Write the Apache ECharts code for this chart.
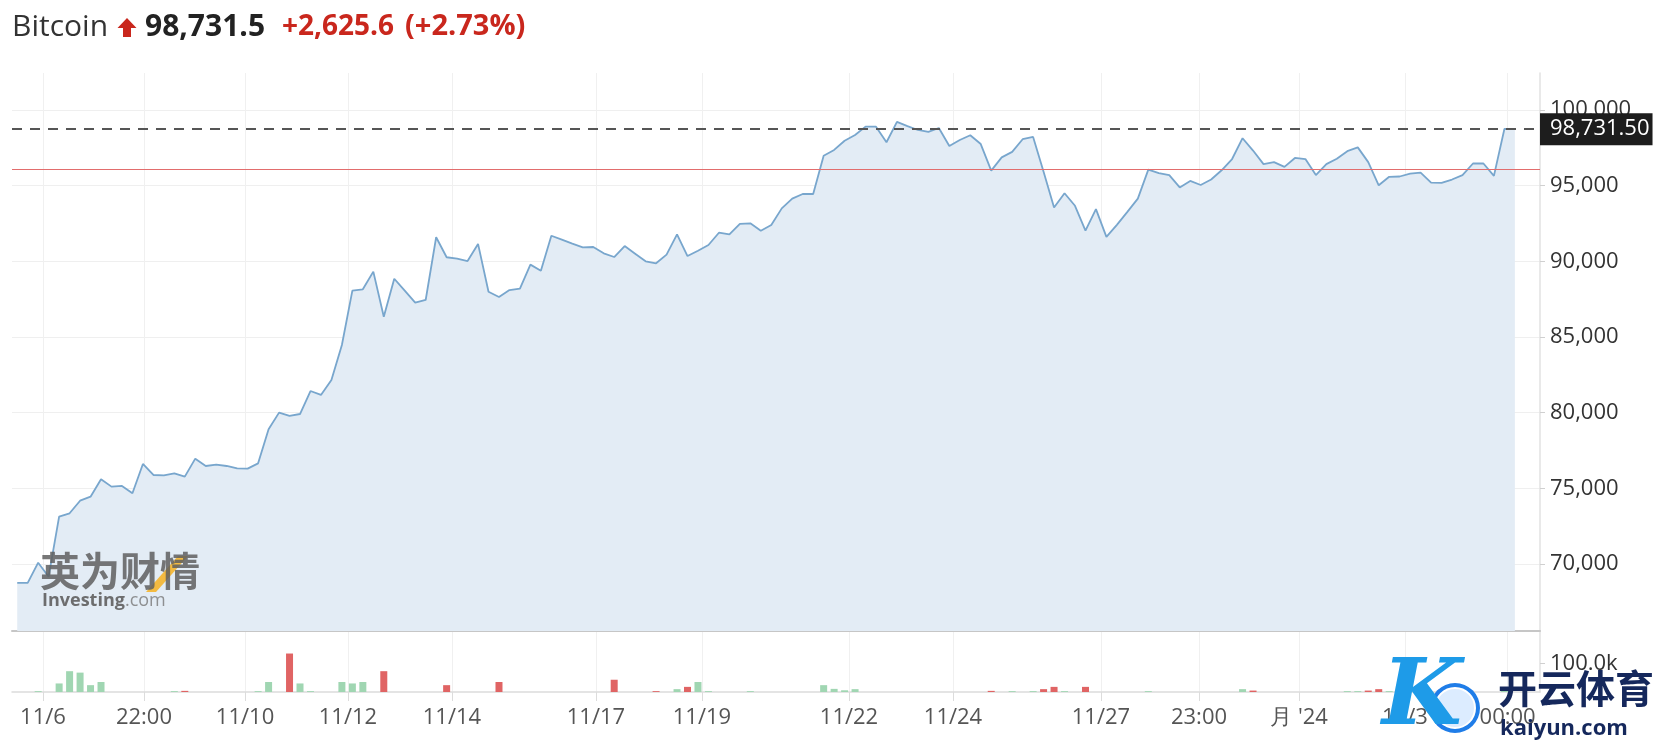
<!DOCTYPE html>
<html><head><meta charset="utf-8">
<script src="https://cdn.jsdelivr.net/npm/echarts@6/dist/echarts.min.js"></script>
<style>html,body{margin:0;padding:0;background:#fff}#c{width:1668px;height:751px}</style>
</head><body><div id="c"></div>
<script>
// ---- data ----
const instrument = 'Bitcoin';
const lastPrice = 98731.5;
const changeAbs = 2625.6;
const changePct = 2.73;
const prevClose = 96105.9;

const prices = [
68745, 68745, 70085, 69160, 73130, 73350, 74180, 74445, 75600, 75110,
75155, 74670, 76610, 75880, 75860, 75990, 75770, 76960, 76475, 76560,
76475, 76320, 76300, 76650, 78900, 80000, 79780, 79910, 81430, 81170,
82160, 84470, 88060, 88150, 89320, 86340, 88850, 88060, 87270, 87445,
91590, 90270, 90175, 90020, 91150, 87990, 87640, 88100, 88190, 89780,
89380, 91690, 91430, 91165, 90925, 90945, 90530, 90285, 91010, 90505,
90000, 89870, 90440, 91785, 90350, 90700, 91080, 91890, 91785, 92470,
92510, 92025, 92400, 93500, 94140, 94450, 94450, 96980, 97360, 97970,
98350, 98900, 98900, 97870, 99210, 98940, 98680, 98550, 98810, 97620,
98020, 98330, 97750, 95990, 96870, 97230, 98070, 98220, 95920, 93560,
94500, 93670, 92025, 93445, 91615, 92410, 93265, 94145, 96060, 95835,
95700, 94885, 95315, 95045, 95405, 96015, 96760, 98135, 97320, 96420,
96555, 96240, 96830, 96760, 95700, 96420, 96780, 97280, 97530, 96555,
95025, 95585, 95605, 95790, 95855, 95200, 95180, 95405, 95700, 96465,
96465, 95650, 98745, 98731.5
];

const volIdx = [2,4,5,6,7,8,15,16,23,24,26,27,28,31,32,33,35,41,46,57,61,63,64,65,66,70,77,78,79,80,93,95,97,98,99,100,102,108,117,118,127,128,129,130,131,136,142];
const volVal = [3000,30000,73000,68000,24000,35000,3000,4000,3000,35000,135000,30000,3000,35000,30000,35000,73000,24000,35000,43000,3000,10000,18000,35000,3000,3000,24000,11000,6000,10000,4000,3000,3000,10000,18000,3000,18000,3000,10000,5000,3000,3000,5000,10000,3000,8000,15000];
const volUp  = [1,1,1,1,1,1,1,0,1,1,0,1,1,1,1,1,0,0,0,0,0,1,0,1,1,1,1,1,1,1,0,1,1,0,0,1,0,1,1,0,1,1,0,0,1,0,1];

const xTickPos = [2.46, 12.10, 21.75, 31.58, 41.51, 55.26, 65.38, 79.42, 89.35, 103.48, 112.84, 122.39, 132.5, 142.31];
const xTickLabels = ['11/6','22:00','11/10','11/12','11/14','11/17','11/19','11/22','11/24','11/27','23:00',"月 '24",'12/3','00:00'];
const priceTicks = [70000, 75000, 80000, 85000, 90000, 95000, 100000];
const volTicks = [100000];

// ---- helpers ----
const commas = s => s.replace(/\B(?=(\d{3})+(?!\d))/g, ',');
const fmtInt = v => commas(String(Math.round(v)));
const fmtDec = (v, d) => { const p = v.toFixed(d).split('.'); return commas(p[0]) + (p[1] ? '.' + p[1] : ''); };
const xFmt = v => { for (let i = 0; i < xTickPos.length; i++) if (Math.abs(xTickPos[i] - v) < 1e-6) return xTickLabels[i]; return ''; };

const FONT = '"Open Sans", "Noto Sans", sans-serif';
const RED = '#c9271d';
const X_MIN = -0.5, X_MAX = 145.4;

const chart = echarts.init(document.getElementById('c'), null, {renderer: 'canvas'});
chart.setOption({
  animation: false,
  backgroundColor: '#ffffff',
  textStyle: {fontFamily: FONT},
  grid: [
    {left: 12, top: 73, width: 1528, height: 558},
    {left: 12, top: 631, width: 1528, height: 61}
  ],
  xAxis: [
    {type: 'value', gridIndex: 0, min: X_MIN, max: X_MAX,
     axisLine: {show: true, onZero: false, lineStyle: {color: '#c6c6c6', width: 2}},
     axisTick: {show: false, customValues: xTickPos},
     axisLabel: {show: false, customValues: xTickPos},
     splitLine: {show: true, lineStyle: {color: '#f0f0f0', width: 1}}},
    {type: 'value', gridIndex: 1, min: X_MIN, max: X_MAX,
     axisLine: {show: true, onZero: false, lineStyle: {color: '#dcdcdc', width: 1.5}},
     axisTick: {show: true, customValues: xTickPos, length: 9, lineStyle: {color: '#dcdcdc'}},
     axisLabel: {customValues: xTickPos, formatter: xFmt, fontSize: 22, color: '#555', fontFamily: FONT, margin: 15},
     splitLine: {show: true, lineStyle: {color: '#f0f0f0', width: 1}}}
  ],
  yAxis: [
    {type: 'value', gridIndex: 0, position: 'right', min: 65570, max: 102445,
     axisLine: {show: true, onZero: false, lineStyle: {color: '#e2e2e2', width: 1.5}},
     axisTick: {show: true, customValues: priceTicks, length: 5, lineStyle: {color: '#d0d0d0'}},
     axisLabel: {customValues: priceTicks, formatter: fmtInt, fontSize: 22, color: '#333', fontFamily: FONT, margin: 10},
     splitLine: {show: true, lineStyle: {color: '#efefef', width: 1}}},
    {type: 'value', gridIndex: 1, position: 'right', min: 0, max: 214000,
     axisLine: {show: true, onZero: false, lineStyle: {color: '#e2e2e2', width: 1.5}},
     axisTick: {show: true, customValues: volTicks, length: 5, lineStyle: {color: '#d0d0d0'}},
     axisLabel: {customValues: volTicks, formatter: v => (v / 1000).toFixed(1) + 'k', fontSize: 22, color: '#333', fontFamily: FONT, margin: 10},
     splitLine: {show: false}}
  ],
  series: [
    {type: 'line', xAxisIndex: 0, yAxisIndex: 0, symbol: 'none', silent: true,
     data: prices.map((v, i) => [i, v]),
     lineStyle: {color: '#78a6cd', width: 1.8},
     areaStyle: {color: '#e3ecf5', opacity: 1, origin: 'start'},
     markLine: {silent: true, symbol: ['none', 'none'], animation: false,
       data: [
         {yAxis: lastPrice, lineStyle: {type: [10, 8], color: '#555', width: 2},
          label: {show: true, position: 'end', distance: 0, formatter: fmtDec(lastPrice, 2),
                  color: '#fff', backgroundColor: '#1d1d1d', fontSize: 22, fontFamily: FONT, padding: [5, 3, 5, 10]}},
         {yAxis: prevClose, lineStyle: {type: 'solid', color: '#e26d6d', width: 1}, label: {show: false}}
       ]}},
    {type: 'bar', xAxisIndex: 1, yAxisIndex: 1, barWidth: 7, silent: true,
     data: volIdx.map((x, k) => ({value: [x, volVal[k]], itemStyle: {color: volUp[k] ? '#a0d6b2' : '#e06464'}}))}
  ],
  graphic: [
    // title line
    {type: 'text', x: 12, y: 27, z: 10, style: {text: instrument, font: '30px ' + FONT, fill: '#333', verticalAlign: 'middle'}},
    {type: 'polygon', z: 10, shape: {points: [[127, 18], [136.5, 28], [131, 28], [131, 37], [123, 37], [123, 28], [117.5, 28]]}, style: {fill: RED}},
    {type: 'text', x: 145, y: 27, z: 10, style: {text: fmtDec(lastPrice, 1), font: 'bold 30px ' + FONT, fill: '#222', verticalAlign: 'middle'}},
    {type: 'text', x: 282, y: 27, z: 10, style: {text: '+' + fmtDec(changeAbs, 1), font: 'bold 28px ' + FONT, fill: RED, verticalAlign: 'middle'}},
    {type: 'text', x: 405, y: 27, z: 10, style: {text: '(+' + changePct.toFixed(2) + '%)', font: 'bold 29px ' + FONT, fill: RED, verticalAlign: 'middle'}},
    // Investing watermark
    {type: 'polygon', z: 10, shape: {points: [[146, 592], [156, 592], [188, 556], [178, 556]]}, style: {fill: '#f4b52e', opacity: 0.9}},
    {type: 'text', x: 40, y: 571, z: 11, style: {text: '英为财情', font: 'bold 40px "Noto Sans CJK SC"', fill: 'rgba(95,95,95,0.85)', verticalAlign: 'middle'}},
    {type: 'text', x: 42, y: 601, z: 11, style: {text: '{a|Investing}{b|.com}', verticalAlign: 'middle',
      rich: {a: {font: 'bold 18px ' + FONT, fill: 'rgba(95,95,95,0.9)'}, b: {font: '18px ' + FONT, fill: 'rgba(120,120,120,0.8)'}}}},
    // kaiyun watermark
    {type: 'circle', z: 20, shape: {cx: 1455, cy: 708, r: 25}, style: {fill: '#1f7de8'}},
    {type: 'circle', z: 21, shape: {cx: 1455, cy: 708, r: 20}, style: {fill: '#dcecff', stroke: '#ffffff', lineWidth: 2}},
    {type: 'text', x: 1382, y: 700, z: 22, style: {text: 'K', font: 'italic bold 92px "DejaVu Serif"', verticalAlign: 'middle', fill: '#1e9be8'}},
    {type: 'text', x: 1498, y: 688, z: 22, style: {text: '开云体育', font: 'bold 39px "Noto Sans CJK SC"', fill: '#15285c', verticalAlign: 'middle'}},
    {type: 'text', x: 1500, y: 729, z: 22, style: {text: 'kaiyun.com', font: 'bold 22px ' + FONT, fill: '#15285c', verticalAlign: 'middle'}}
  ]
});
</script>
</body></html>
